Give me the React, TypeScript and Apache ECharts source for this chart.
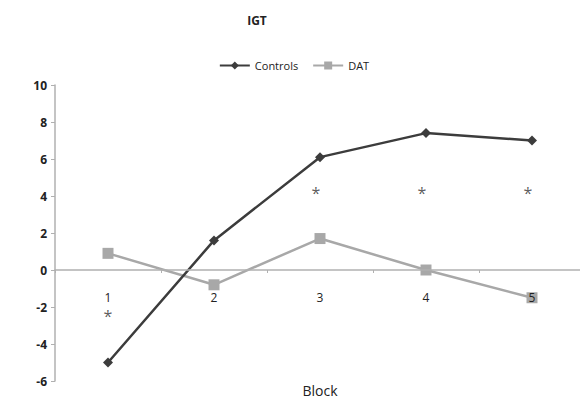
import React, { useEffect, useRef } from "react";
import * as echarts from "echarts";

const blocks = ["1", "2", "3", "4", "5"];
const controls = [-5.0, 1.6, 6.1, 7.4, 7.0];
const dat = [0.9, -0.8, 1.7, 0.0, -1.5];
const starPoints: [number, number][] = [
  [0, -2.5],
  [2, 4.15],
  [3, 4.15],
  [4, 4.15],
];
const yTicks = { min: -6, max: 10, interval: 2 };

export default function App() {
  const ref = useRef<HTMLDivElement>(null);
  useEffect(() => {
    if (!ref.current) return;
    const chart = echarts.init(ref.current, undefined, { renderer: "svg" });
    const font = "'Open Sans', 'Liberation Sans', sans-serif";
    chart.setOption({
      animation: false,
      backgroundColor: "#ffffff",
      textStyle: { fontFamily: font },
      title: {
        text: "IGT",
        left: 252,
        top: 9,
        textAlign: "center",
        textStyle: { fontSize: 12, fontWeight: "bold", color: "#222", fontFamily: font },
      },
      legend: {
        data: ["Controls", "DAT"],
        top: 55,
        left: "center",
        itemWidth: 30,
        itemHeight: 10,
        itemGap: 14,
        textStyle: { fontSize: 11, color: "#222", fontFamily: font },
      },
      grid: {
        left: 55,
        right: 3,
        top: 85,
        bottom: 23,
        containLabel: false,
        outerBoundsMode: "none",
      },
      xAxis: {
        type: "category",
        data: blocks,
        boundaryGap: true,
        position: "bottom",
        offset: -111,
        name: "Block",
        nameLocation: "middle",
        nameGap: 113,
        nameTextStyle: { fontSize: 14, color: "#222", fontFamily: font },
        axisLine: { onZero: false, lineStyle: { color: "#b0b0b0", width: 1.5 } },
        axisTick: { show: true, length: 3, lineStyle: { color: "#b0b0b0" } },
        axisLabel: {
          interval: 0,
          hideOverlap: false,
          margin: 21,
          fontSize: 12,
          color: "#222",
          fontFamily: font,
        },
        splitLine: { show: false },
        z: 10,
      },
      yAxis: {
        type: "value",
        min: yTicks.min,
        max: yTicks.max,
        interval: yTicks.interval,
        axisLine: { show: true, lineStyle: { color: "#b0b0b0", width: 1.5 } },
        axisTick: { show: true, length: 4, lineStyle: { color: "#b0b0b0" } },
        axisLabel: { margin: 8, fontSize: 12, fontWeight: "bold", color: "#222", fontFamily: font },
        splitLine: { show: false },
      },
      series: [
        {
          name: "Controls",
          type: "line",
          data: controls,
          symbol: "diamond",
          symbolSize: 10,
          lineStyle: { color: "#3c3c3c", width: 2.5 },
          itemStyle: { color: "#3c3c3c" },
          z: 3,
        },
        {
          name: "DAT",
          type: "line",
          data: dat,
          symbol: "rect",
          symbolSize: 11,
          lineStyle: { color: "#a8a8a8", width: 2.5 },
          itemStyle: { color: "#a8a8a8" },
          z: 2,
        },
        {
          name: "sig",
          type: "scatter",
          data: starPoints.map((p, i) => ({
            value: p,
            label: { offset: [i === 0 ? 0 : -4, 0] },
          })),
          symbolSize: 1,
          itemStyle: { color: "rgba(0,0,0,0)" },
          label: {
            show: true,
            position: "inside",
            formatter: "*",
            fontSize: 16,
            color: "#333",
            fontFamily: font,
          },
          z: 4,
        },
      ],
    });
    return () => chart.dispose();
  }, []);
  return <div ref={ref} style={{ width: 588, height: 404, margin: -8 }} />;
}
